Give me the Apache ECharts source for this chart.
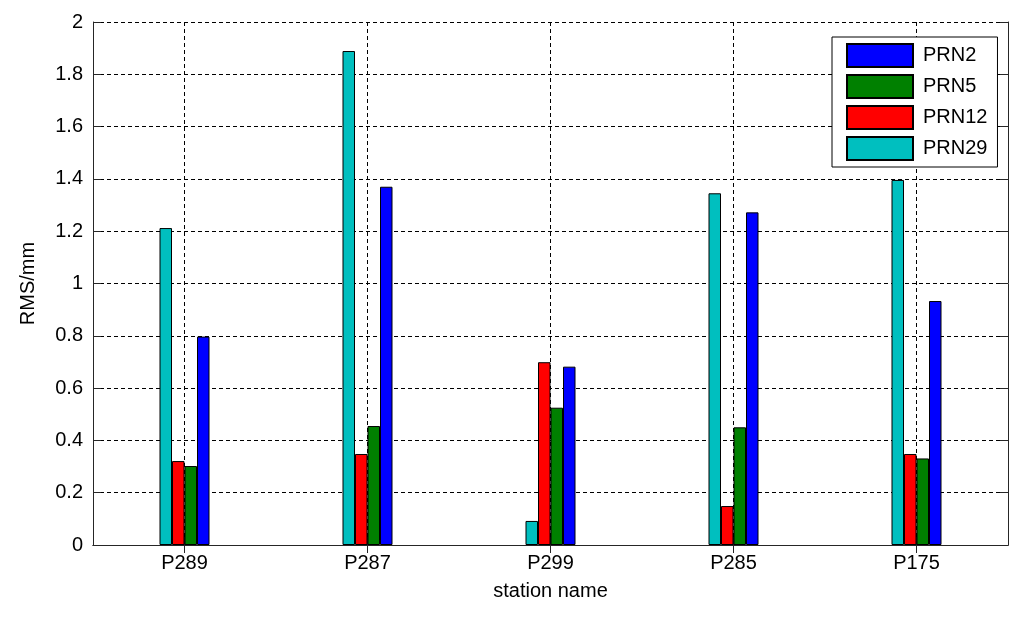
<!DOCTYPE html>
<html><head><meta charset="utf-8">
<script src="https://cdn.jsdelivr.net/npm/echarts@6/dist/echarts.min.js"></script>
<style>html,body{margin:0;padding:0;background:#fff}#c{width:1024px;height:618px}</style>
</head><body><div id="c"></div>
<script>
const stations = ['P289', 'P287', 'P299', 'P285', 'P175'];
const prn29 = [1.212, 1.889, 0.092, 1.345, 1.396];
const prn12 = [0.321, 0.348, 0.699, 0.149, 0.348];
const prn5  = [0.302, 0.455, 0.525, 0.450, 0.331];
const prn2  = [0.797, 1.370, 0.682, 1.272, 0.933];
const legendOrder = ['PRN2', 'PRN5', 'PRN12', 'PRN29'];

const FONT = 'Liberation Sans, Arial, sans-serif';
const dash = { type: [4, 3], color: '#000', width: 1 };
const axisLine = { show: true, lineStyle: { color: '#262626', width: 1 } };

function bar(name, data, color) {
  return {
    name: name, type: 'bar', data: data,
    barWidth: 12.5, barGap: '0%',
    itemStyle: { color: color, borderColor: '#000', borderWidth: 1 },
    xAxisIndex: 0, yAxisIndex: 0
  };
}

const chart = echarts.init(document.getElementById('c'), null, { renderer: 'canvas' });
chart.setOption({
  animation: false,
  backgroundColor: '#fff',
  textStyle: { fontFamily: FONT },
  grid: { left: 93, right: 16, top: 22, bottom: 73, containLabel: false },
  legend: {
    data: legendOrder,
    orient: 'vertical',
    left: 832, top: 37,
    itemWidth: 66, itemHeight: 23, itemGap: 6,
    padding: [6, 10, 6, 14],
    icon: 'rect',
    backgroundColor: '#fff',
    borderColor: '#000', borderWidth: 1,
    textStyle: { fontSize: 20, color: '#000', fontFamily: FONT, lineHeight: 20, padding: [0, 0, 0, 5] }
  },
  xAxis: [
    {
      type: 'category', data: stations, position: 'bottom',
      name: 'station name', nameLocation: 'middle', nameGap: 36,
      nameTextStyle: { fontSize: 20, color: '#000', fontFamily: FONT },
      axisLine: axisLine,
      axisTick: { show: true, inside: true, length: 8, alignWithLabel: true, lineStyle: { color: '#262626' } },
      axisLabel: { fontSize: 20, color: '#000', margin: 8, fontFamily: FONT },
      splitLine: { show: true, alignWithLabel: true, lineStyle: dash }
    },
    {
      type: 'category', data: stations, position: 'top',
      axisLine: axisLine,
      axisTick: { show: true, inside: true, length: 8, alignWithLabel: true, lineStyle: { color: '#262626' } },
      axisLabel: { show: false },
      splitLine: { show: false }
    }
  ],
  yAxis: [
    {
      type: 'value', min: 0, max: 2, interval: 0.2, position: 'left',
      name: 'RMS/mm', nameLocation: 'middle', nameGap: 55, nameRotate: 90,
      nameTextStyle: { fontSize: 20, color: '#000', fontFamily: FONT },
      axisLine: axisLine,
      axisTick: { show: true, inside: true, length: 8, lineStyle: { color: '#262626' } },
      axisLabel: { fontSize: 20, color: '#000', margin: 10, fontFamily: FONT },
      splitLine: { show: true, lineStyle: dash }
    },
    {
      type: 'value', min: 0, max: 2, interval: 0.2, position: 'right',
      axisLine: axisLine,
      axisTick: { show: true, inside: true, length: 8, lineStyle: { color: '#262626' } },
      axisLabel: { show: false },
      splitLine: { show: false }
    }
  ],
  series: [
    bar('PRN29', prn29, '#00BFBF'),
    bar('PRN12', prn12, '#FF0000'),
    bar('PRN5', prn5, '#008000'),
    bar('PRN2', prn2, '#0000FF')
  ]
});
</script></body></html>
